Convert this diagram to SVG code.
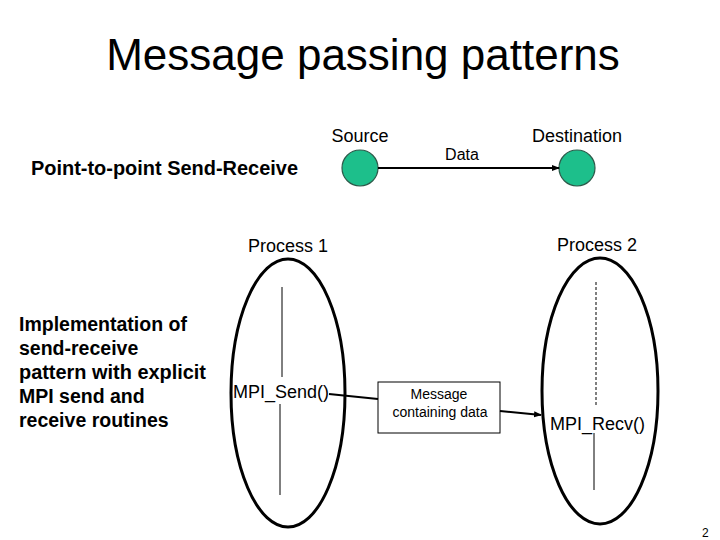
<svg xmlns="http://www.w3.org/2000/svg" width="720" height="540" viewBox="0 0 720 540">
<style>
text{font-family:"Liberation Sans",Arial,sans-serif;fill:#000}
.b{font-weight:bold}
.node{fill:#1dbf8b;stroke:#2d5a4a;stroke-width:1.2}
.proc{fill:none;stroke:#000;stroke-width:3}
.tl{stroke:#000;stroke-width:1}
.cn{stroke:#000;stroke-width:2;fill:none}
</style>
<defs>
<marker id="ah" markerWidth="8" markerHeight="8" refX="7" refY="4" orient="auto" markerUnits="userSpaceOnUse">
<path d="M0,1 L8,4 L0,7 Z" fill="#000"/>
</marker>
</defs>
<rect width="720" height="540" fill="#fff"/>
<text x="363" y="70" font-size="44" text-anchor="middle">Message passing patterns</text>
<text x="31" y="175" font-size="20" class="b" textLength="267" lengthAdjust="spacingAndGlyphs">Point-to-point Send-Receive</text>
<g id="labels-left">
<text x="19" y="331" font-size="19.5" class="b">Implementation of</text>
<text x="19" y="355" font-size="19.5" class="b">send-receive</text>
<text x="19" y="379" font-size="19.5" class="b" textLength="187" lengthAdjust="spacingAndGlyphs">pattern with explicit</text>
<text x="19" y="403" font-size="19.5" class="b">MPI send and</text>
<text x="19" y="427" font-size="19.5" class="b">receive routines</text>
</g>
<g id="source">
<circle class="node" cx="360" cy="168" r="18"/>
<text x="360" y="142" font-size="18" text-anchor="middle">Source</text>
</g>
<g id="destination">
<circle class="node" cx="577" cy="168" r="18"/>
<text x="577" y="142" font-size="18" text-anchor="middle">Destination</text>
</g>
<g id="process1">
<ellipse class="proc" cx="288" cy="393" rx="57" ry="134"/>
<text x="288" y="252" font-size="18" text-anchor="middle">Process 1</text>
<line class="tl" x1="282" y1="287" x2="282" y2="377"/>
<line class="tl" x1="280" y1="404" x2="280" y2="495"/>
<text x="233" y="398" font-size="18">MPI_Send()</text>
</g>
<g id="process2">
<ellipse class="proc" cx="600" cy="391" rx="58" ry="133"/>
<text x="597" y="251" font-size="18" text-anchor="middle">Process 2</text>
<line class="tl" x1="596" y1="282" x2="596" y2="405" stroke-dasharray="3,2"/>
<line class="tl" x1="594" y1="433" x2="594" y2="490"/>
<text x="550" y="430" font-size="18">MPI_Recv()</text>
</g>
<g id="message">
<rect x="378" y="382" width="122" height="51" fill="#fff" stroke="#000" stroke-width="1"/>
<text x="439" y="399" font-size="14" text-anchor="middle">Message</text>
<text x="440" y="417" font-size="14" text-anchor="middle">containing data</text>
</g>
<g id="connectors">
<line class="cn" x1="378" y1="168" x2="559" y2="168" stroke-width="2.5" marker-end="url(#ah)"/>
<text x="462" y="160" font-size="16" text-anchor="middle">Data</text>
<line class="cn" x1="329" y1="394" x2="378" y2="399"/>
<line class="cn" x1="500" y1="411" x2="541" y2="415" marker-end="url(#ah)"/>
</g>
<text x="702" y="537" font-size="12">2</text>
</svg>
